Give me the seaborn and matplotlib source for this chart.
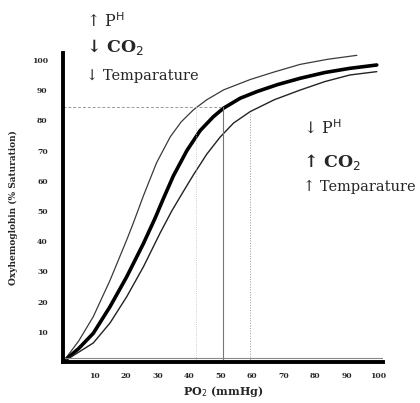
import matplotlib
matplotlib.use("Agg")
import matplotlib.pyplot as plt
import seaborn as sns

# curves (PO2 mmHg -> % saturation)
left_x = [0, 5, 9.6, 14.9, 20.2, 22.3, 25.5, 29.7, 34, 37.5, 41.4, 45.6, 51, 59.4, 67, 75.2, 84, 93.2]
left_y = [0, 7, 15, 27, 40.4, 46, 55, 66, 74.5, 79.5, 83.5, 86.8, 90.1, 93.5, 96, 98.5, 100.2, 101.5]

mid_x = [0, 5, 9.6, 14.9, 20.2, 25.5, 29.2, 31.8, 35, 39.3, 43.5, 47.7, 50.9, 56.2, 61.5, 68, 75.2, 83, 91, 99.5]
mid_y = [0, 4.5, 9.5, 18.3, 28.2, 39.2, 47.6, 54, 61.6, 70, 76.6, 81.2, 84, 87.3, 89.5, 91.8, 93.9, 95.8, 97.2, 98.3]

right_x = [0, 9.6, 14.9, 20.2, 25.5, 30.8, 34.5, 38.2, 41.4, 45.6, 49.8, 54.1, 59.4, 67, 75.2, 83, 91, 99.5]
right_y = [0, 6.3, 12.9, 21.6, 31.5, 42.7, 50, 56.5, 62, 68.8, 74.4, 79.1, 82.9, 86.8, 90, 92.8, 95, 96.1]

# guide lines
guide_level = 84.3
guide_x = [42.2, 50.9, 59.4]
guide_top = [84.3, 84.3, 82.9]

ticks = [10, 20, 30, 40, 50, 60, 70, 80, 90, 100]
tick_labels = [str(t) for t in ticks]

sns.set_style("white")
plt.rcParams["font.family"] = ["DejaVu Serif", "DejaVu Sans"]

fig = plt.figure(figsize=(4.2, 4.03), dpi=100)
ax = fig.add_axes([0.15, 0.1017, 0.762, 0.767])

sns.lineplot(x=left_x, y=left_y, color="#3a3a3a", lw=0.9, ax=ax)
sns.lineplot(x=mid_x, y=mid_y, color="black", lw=2.6, ax=ax)
sns.lineplot(x=right_x, y=right_y, color="#222222", lw=1.0, ax=ax)

ax.plot([0, guide_x[1]], [guide_level, guide_level], color="#999999", lw=0.7, ls=(0, (3, 2)))
ax.plot([guide_x[0], guide_x[0]], [0, guide_top[0]], color="#bbbbbb", lw=0.6, ls=":")
ax.plot([guide_x[1], guide_x[1]], [0, guide_top[1]], color="#777777", lw=0.8)
ax.plot([guide_x[2], guide_x[2]], [0, guide_top[2]], color="#999999", lw=0.7, ls=":")

# double-line look of the x axis
ax.axhline(1.3, color="#888888", lw=0.8)

ax.set_xlim(0, 101.5)
ax.set_ylim(0, 102.3)
ax.set_xticks(ticks)
ax.set_xticklabels(tick_labels, fontsize=5.5, fontweight="bold")
ax.set_yticks(ticks)
ax.set_yticklabels(tick_labels, fontsize=5.5, fontweight="bold")
ax.tick_params(axis="x", direction="inout", length=10, width=1.6, pad=2)
ax.tick_params(axis="y", direction="in", length=6, width=1.6, pad=11)

for side in ["top", "right"]:
    ax.spines[side].set_visible(False)
for side in ["left", "bottom"]:
    ax.spines[side].set_linewidth(2.8)
    ax.spines[side].set_color("black")

ax.set_xlabel("PO$_2$ (mmHg)", fontsize=8, fontweight="bold", labelpad=3)
ax.set_ylabel("Oxyhemoglobin (% Saturation)", fontsize=6.5, fontweight="bold", labelpad=10)


def ftext(px, py, s, **kw):
    fig.text(px / 420, 1 - py / 403, s, va="center", ha="left", **kw)


ftext(86, 22, "↑ P$^{\\mathrm{H}}$", fontsize=11.5)
ftext(86, 47, "↓ CO$_2$", fontsize=12.5, fontweight="bold")
ftext(86, 76, "↓ Temparature", fontsize=10.5)

ftext(303, 128, "↓ P$^{\\mathrm{H}}$", fontsize=11.5)
ftext(303, 162, "↑ CO$_2$", fontsize=12.5, fontweight="bold")
ftext(303, 187, "↑ Temparature", fontsize=10.5)

fig.savefig("out.png", dpi=100)
